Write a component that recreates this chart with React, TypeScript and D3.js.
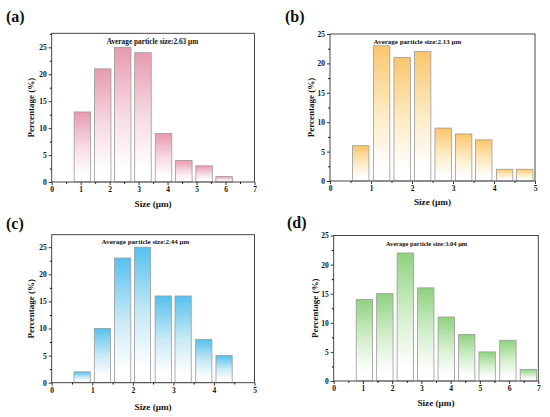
import React, { useEffect, useRef } from "react";
import * as d3 from "d3";

// bin centres (µm) and percentages
const sizesA = [1.06, 1.76, 2.45, 3.15, 3.86, 4.56, 5.26, 5.95];
const percentA = [13, 21, 25, 24, 9, 4, 3, 1];

const sizesB = [0.75, 1.26, 1.76, 2.26, 2.76, 3.26, 3.75, 4.26, 4.75];
const percentB = [6, 23, 21, 22, 9, 8, 7, 2, 2];

const sizesC = [0.75, 1.25, 1.75, 2.24, 2.75, 3.24, 3.75, 4.25];
const percentC = [2, 10, 23, 25, 16, 16, 8, 5];

const sizesD = [1.05, 1.75, 2.45, 3.15, 3.85, 4.55, 5.25, 5.96, 6.66];
const percentD = [14, 15, 22, 16, 11, 8, 5, 7, 2];

const yTicks = [0, 5, 10, 15, 20, 25];

interface Panel {
  id: string;
  label: string;
  note: string;
  sizes: number[];
  values: number[];
  xMax: number;
  yMax: number;
  barWidth: number;
  color: string;
  mid: string;
  box: { left: number; right: number; top: number; bottom: number };
  labelPos: [number, number];
  yTitleX: number;
  xTitleY: number;
  notePos: [number, number];
  noteSize: number;
}

const panels: Panel[] = [
  {
    id: "a",
    label: "(a)",
    note: "Average particle size:2.63 μm",
    sizes: sizesA,
    values: percentA,
    xMax: 7,
    yMax: 27.6,
    barWidth: 0.57,
    color: "#e89aae",
    mid: "#f7dbe2",
    box: { left: 51.7, right: 254.5, top: 33.3, bottom: 182 },
    labelPos: [6, 22],
    yTitleX: 34,
    xTitleY: 207,
    notePos: [152.5, 44],
    noteSize: 7.3,
  },
  {
    id: "b",
    label: "(b)",
    note: "Average particle size:2.13 μm",
    sizes: sizesB,
    values: percentB,
    xMax: 5,
    yMax: 25,
    barWidth: 0.4,
    color: "#fbc66c",
    mid: "#fdebc4",
    box: { left: 330, right: 535, top: 34, bottom: 181 },
    labelPos: [285, 22],
    yTitleX: 314,
    xTitleY: 205,
    notePos: [417.5, 43.5],
    noteSize: 7,
  },
  {
    id: "c",
    label: "(c)",
    note: "Average particle size:2.44 μm",
    sizes: sizesC,
    values: percentC,
    xMax: 5,
    yMax: 27.3,
    barWidth: 0.4,
    color: "#55c1ef",
    mid: "#c9eaf6",
    box: { left: 51.7, right: 254.5, top: 234.7, bottom: 382.7 },
    labelPos: [6, 228.5],
    yTitleX: 34,
    xTitleY: 410,
    notePos: [145.5, 243.5],
    noteSize: 7,
  },
  {
    id: "d",
    label: "(d)",
    note: "Average particle size:3.04 μm",
    sizes: sizesD,
    values: percentD,
    xMax: 7,
    yMax: 25,
    barWidth: 0.56,
    color: "#8fd27f",
    mid: "#d6f0cf",
    box: { left: 333.7, right: 538.3, top: 235.5, bottom: 381 },
    labelPos: [287, 227.5],
    yTitleX: 318,
    xTitleY: 406,
    notePos: [426.5, 246],
    noteSize: 6.5,
  },
];

const FONT = "'Liberation Serif', 'Times New Roman', serif";

const App: React.FC = () => {
  const svgRef = useRef<SVGSVGElement>(null);

  useEffect(() => {
    if (!svgRef.current) return;
    const svg = d3.select(svgRef.current);
    svg.selectAll("*").remove();
    const defs = svg.append("defs");

    panels.forEach((p) => {
      const { left, right, top, bottom } = p.box;
      const x = d3.scaleLinear().domain([0, p.xMax]).range([left, right]);
      const y = d3.scaleLinear().domain([0, p.yMax]).range([bottom, top]);

      const grad = defs
        .append("linearGradient")
        .attr("id", `grad-${p.id}`)
        .attr("x1", 0)
        .attr("y1", 0)
        .attr("x2", 0)
        .attr("y2", 1);
      grad.append("stop").attr("offset", 0).attr("stop-color", p.color);
      grad.append("stop").attr("offset", 0.5).attr("stop-color", p.mid);
      grad.append("stop").attr("offset", 0.9).attr("stop-color", "#ffffff");

      const g = svg.append("g").attr("font-family", FONT).attr("font-weight", "bold");

      // bars
      g.append("g")
        .selectAll("rect")
        .data(p.sizes.map((s, i) => ({ s, v: p.values[i] })))
        .join("rect")
        .attr("x", (d) => x(d.s - p.barWidth / 2))
        .attr("width", (d) => x(d.s + p.barWidth / 2) - x(d.s - p.barWidth / 2))
        .attr("y", (d) => y(d.v))
        .attr("height", (d) => y(0) - y(d.v))
        .attr("fill", `url(#grad-${p.id})`)
        .attr("stroke", "#9a9a9a")
        .attr("stroke-width", 0.8);

      // frame
      g.append("rect")
        .attr("x", left)
        .attr("y", top)
        .attr("width", right - left)
        .attr("height", bottom - top)
        .attr("fill", "none")
        .attr("stroke", "#333")
        .attr("stroke-width", 0.9);

      // x axis
      const xMinor = d3.range(0, p.xMax + 0.01, 0.5).filter((v) => v % 1 !== 0);
      g.append("g")
        .attr("transform", `translate(0,${bottom})`)
        .call(
          d3.axisBottom(x).tickValues(xMinor).tickSize(1.8).tickFormat(() => "")
        )
        .call((a) => a.select(".domain").remove());
      g.append("g")
        .attr("transform", `translate(0,${bottom})`)
        .call(
          d3
            .axisBottom(x)
            .tickValues(d3.range(0, p.xMax + 1))
            .tickSize(3)
            .tickPadding(2)
            .tickFormat(d3.format("d"))
        )
        .call((a) => a.select(".domain").remove())
        .call((a) =>
          a
            .selectAll("text")
            .attr("font-family", FONT)
            .attr("font-weight", "bold")
            .attr("font-size", 7.5)
            .attr("fill", "#111")
        )
        .call((a) => a.selectAll("line").attr("stroke", "#333"));

      // y axis
      const yMinor = d3.range(2.5, p.yMax, 5);
      g.append("g")
        .attr("transform", `translate(${left},0)`)
        .call(d3.axisLeft(y).tickValues(yMinor).tickSize(1.8).tickFormat(() => ""))
        .call((a) => a.select(".domain").remove());
      g.append("g")
        .attr("transform", `translate(${left},0)`)
        .call(
          d3
            .axisLeft(y)
            .tickValues(yTicks)
            .tickSize(3)
            .tickPadding(2)
            .tickFormat(d3.format("d"))
        )
        .call((a) => a.select(".domain").remove())
        .call((a) =>
          a
            .selectAll("text")
            .attr("font-family", FONT)
            .attr("font-weight", "bold")
            .attr("font-size", 7.5)
            .attr("fill", "#111")
        )
        .call((a) => a.selectAll("line").attr("stroke", "#333"));

      // titles
      g.append("text")
        .attr("x", (left + right) / 2)
        .attr("y", p.xTitleY)
        .attr("text-anchor", "middle")
        .attr("font-size", 9.2)
        .attr("fill", "#111")
        .text("Size (μm)");

      g.append("text")
        .attr("transform", `translate(${p.yTitleX},${(top + bottom) / 2}) rotate(-90)`)
        .attr("text-anchor", "middle")
        .attr("font-size", 9)
        .attr("fill", "#111")
        .text("Percentage (%)");

      g.append("text")
        .attr("x", p.notePos[0])
        .attr("y", p.notePos[1])
        .attr("text-anchor", "middle")
        .attr("font-size", p.noteSize)
        .attr("fill", "#111")
        .text(p.note);

      g.append("text")
        .attr("x", p.labelPos[0])
        .attr("y", p.labelPos[1])
        .attr("font-size", 16)
        .attr("fill", "#111")
        .text(p.label);
    });
  }, []);

  return (
    <svg
      ref={svgRef}
      width={550}
      height={417}
      style={{ position: "absolute", left: 0, top: 0, background: "#fff" }}
    />
  );
};

export default App;
